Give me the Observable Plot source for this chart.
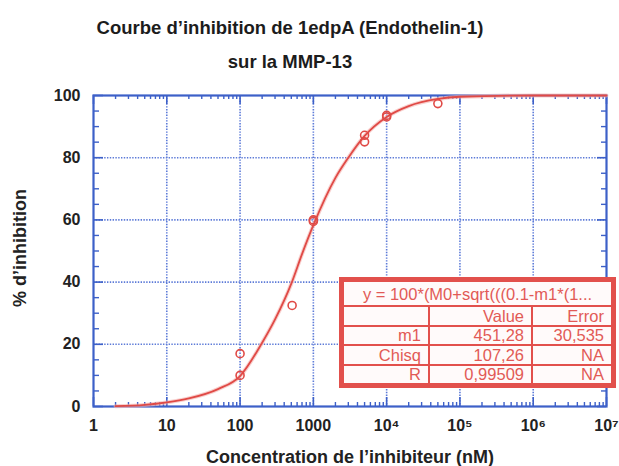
<!DOCTYPE html>
<html>
<head>
<meta charset="utf-8">
<script src="https://cdn.jsdelivr.net/npm/d3@7"></script>
<script src="https://cdn.jsdelivr.net/npm/@observablehq/plot@0.6"></script>
<style>
  html, body { margin: 0; padding: 0; background: #fff; }
  #wrap { position: relative; width: 619px; height: 466px; overflow: hidden; font-family: "Liberation Sans", Arial, sans-serif; }
  #title { position: absolute; left: 0; top: 11px; width: 580px; text-align: center; font-weight: bold; font-size: 18.5px; line-height: 34px; color: #1c1c1c; }
  #chart { position: absolute; left: 0; top: 0; }
  #fit { position: absolute; left: 339px; top: 277px; width: 277px; height: 111px; box-sizing: border-box;
         border: 3px solid #e2504c; background: #fffafa; color: #e25a56; font-size: 16.5px; }
  #fit table { border-collapse: collapse; width: 100%; height: 100%; table-layout: fixed; }
  #fit td { border: 2px solid #e2504c; text-align: right; padding: 0 7px 0 0; line-height: 16px; white-space: nowrap; overflow: hidden; }
  #fit tr.h td { text-align: center; padding: 0; height: 23px; }
  #fit col.c1 { width: 86px; } #fit col.c2 { width: 103px; }
</style>
</head>
<body>
<div id="wrap">
  <div id="chart"></div>
  <div id="title"></div>
  <div id="fit"></div>
</div>
<script>
// ---- data ----
const titleLines = ["Courbe d’inhibition de 1edpA (Endothelin-1)", "sur la MMP-13"];
const xLabel = "Concentration de l’inhibiteur (nM)";
const yLabel = "% d’inhibition";

const xTickValues = [1, 10, 100, 1000, 1e4, 1e5, 1e6, 1e7];
const xTickLabels = ["1", "10", "100", "1000", "10⁴", "10⁵", "10⁶", "10⁷"];
const yTickValues = [0, 20, 40, 60, 80, 100];

// measured points (hollow circles)
const pointX = [100, 100, 513, 1000, 1000, 5000, 5000, 10000, 10000, 50000];
const pointY = [17, 10, 32.5, 60, 59.5, 87.2, 85.1, 93.1, 93.6, 97.4];

// fitted curve
const curveX = [2, 5, 10, 20, 50, 100, 200, 300, 500, 700, 1000, 2000, 3000, 5000, 1e4, 2e4, 5e4, 1e5, 1e6, 1e7];
const curveY = [0.1, 0.5, 1.3, 2.6, 5.6, 9.8, 20.5, 28, 39.5, 49, 58.3, 73.5, 80, 87, 93.1, 96.6, 98.9, 99.6, 100, 100];

// fit table
const fitHeader = "y = 100*(M0+sqrt(((0.1-m1*(1...";
const fitColumns = ["", "Value", "Error"];
const fitRows = [
  ["m1", "451,28", "30,535"],
  ["Chisq", "107,26", "NA"],
  ["R", "0,99509", "NA"]
];

// ---- build ----
const points = pointX.map((x, i) => ({x, y: pointY[i]}));
const curve = curveX.map((x, i) => ({x, y: curveY[i]}));

const W = 619, H = 466, mT = 95, mB = 60, mL = 93, mR = 13;
const fw = W - mL - mR, fh = H - mT - mB;

const blue = "#3d60c8";
const grid = "#5d7bd8";
const red = "#e04a46";

const xMinor = [];
for (let e = 0; e < 7; e++) for (let k = 2; k <= 9; k++) xMinor.push(k * Math.pow(10, e));
const yMinor = d3.range(0, 101, 5).filter(v => v % 20 !== 0);

const chart = Plot.plot({
  width: W, height: H,
  marginTop: mT, marginBottom: mB, marginLeft: mL, marginRight: mR,
  x: {type: "log", domain: [1, 1e7]},
  y: {domain: [0, 100]},
  style: {fontFamily: "'Liberation Sans', Arial, sans-serif", background: "transparent"},
  marks: [
    Plot.gridX(xTickValues.slice(1, -1), {stroke: grid, strokeOpacity: 1, strokeWidth: 1.6, strokeDasharray: "1.4,1.4"}),
    Plot.gridY(yTickValues.slice(1, -1), {stroke: grid, strokeOpacity: 1, strokeWidth: 1.6, strokeDasharray: "1.4,1.4"}),
    // inward ticks: bottom & top
    Plot.tickX(xTickValues, {x: d => d, stroke: blue, strokeWidth: 1.6, insetTop: fh - 9}),
    Plot.tickX(xMinor, {x: d => d, stroke: blue, strokeWidth: 1.4, insetTop: fh - 4}),
    Plot.tickX(xTickValues, {x: d => d, stroke: blue, strokeWidth: 1.6, insetBottom: fh - 9}),
    Plot.tickX(xMinor, {x: d => d, stroke: blue, strokeWidth: 1.4, insetBottom: fh - 4}),
    // inward ticks: left & right
    Plot.tickY(yTickValues, {y: d => d, stroke: blue, strokeWidth: 1.6, insetRight: fw - 10}),
    Plot.tickY(yMinor, {y: d => d, stroke: blue, strokeWidth: 1.4, insetRight: fw - 6}),
    Plot.tickY(yTickValues, {y: d => d, stroke: blue, strokeWidth: 1.6, insetLeft: fw - 9}),
    Plot.tickY(yMinor, {y: d => d, stroke: blue, strokeWidth: 1.4, insetLeft: fw - 5}),
    Plot.frame({stroke: blue, strokeWidth: 2.2}),
    Plot.axisX(xTickValues, {
      tickSize: 0, tickPadding: 13, label: null,
      tickFormat: d => xTickLabels[xTickValues.indexOf(d)],
      fontSize: 16, fontWeight: "bold", fill: "#222"
    }),
    Plot.axisY(yTickValues, {
      tickSize: 0, tickPadding: 13, label: null,
      fontSize: 16, fontWeight: "bold", fill: "#222"
    }),
    Plot.line(curve, {x: "x", y: "y", stroke: "#f4b0ae", strokeWidth: 4, strokeOpacity: 0.6, curve: "monotone-x"}),
    Plot.line(curve, {x: "x", y: "y", stroke: red, strokeWidth: 1.8, curve: "monotone-x"}),
    Plot.dot(points, {x: "x", y: "y", r: 4, stroke: red, strokeWidth: 1.6, fill: "none"}),
    Plot.text([xLabel], {frameAnchor: "bottom", dy: 51, fontSize: 18, fontWeight: "bold", fill: "#222", lineAnchor: "middle"}),
    Plot.text([yLabel], {frameAnchor: "left", dx: -73, dy: -3, rotate: -90, textAnchor: "middle", fontSize: 18, fontWeight: "bold", fill: "#222", lineAnchor: "middle"})
  ]
});
document.getElementById("chart").appendChild(chart);

// title text from the arrays
document.getElementById("title").innerHTML = titleLines.join("<br>");

// fit table
const tbl = document.createElement("table");
const cg = document.createElement("colgroup");
["c1", "c2", "c3"].forEach(c => { const col = document.createElement("col"); col.className = c; cg.appendChild(col); });
tbl.appendChild(cg);
const hr = tbl.insertRow(); hr.className = "h";
const hc = hr.insertCell(); hc.colSpan = 3; hc.textContent = fitHeader;
const cr = tbl.insertRow();
fitColumns.forEach(c => { cr.insertCell().textContent = c; });
fitRows.forEach(r => { const tr = tbl.insertRow(); r.forEach(c => { tr.insertCell().textContent = c; }); });
document.getElementById("fit").appendChild(tbl);
</script>
</body>
</html>
